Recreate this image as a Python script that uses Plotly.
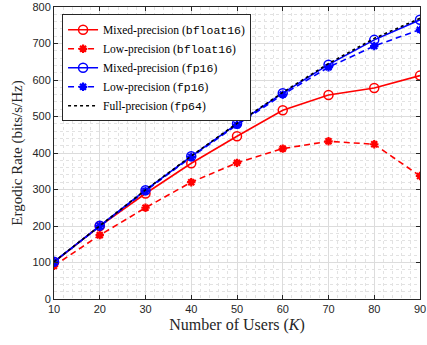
import plotly.graph_objects as go

users = [10, 20, 30, 40, 50, 60, 70, 80, 90]
mixed_bf16 = [101, 200, 289, 372, 446, 517, 559, 578, 612]
low_bf16 = [91, 175, 250, 320, 373, 412, 432, 424, 337]
mixed_fp16 = [102, 201, 298, 391, 480, 564, 642, 710, 765]
low_fp16 = [102, 200, 296, 389, 477, 560, 635, 693, 738]
full_fp64 = [102, 201, 299, 392, 481, 566, 645, 714, 769]

y_ticks = [0, 100, 200, 300, 400, 500, 600, 700, 800]
x_ticks = users

mono = "Liberation Mono, DejaVu Sans Mono, monospace"

def lbl(prefix, code):
    return f'{prefix} (<span style="font-family:{mono}">{code}</span>)'

fig = go.Figure()
fig.add_trace(go.Scatter(x=users, y=mixed_bf16, mode="lines+markers",
    name=lbl("Mixed-precision", "bfloat16"),
    line=dict(color="#ff0000", width=1.6),
    marker=dict(symbol="circle-open", size=9, color="#ff0000", line=dict(width=1.5))))
fig.add_trace(go.Scatter(x=users, y=low_bf16, mode="lines+markers",
    name=lbl("Low-precision", "bfloat16"),
    line=dict(color="#ff0000", width=1.6, dash="6px,4px"),
    marker=dict(symbol="asterisk-open", size=7, color="#ff0000", line=dict(width=2.2, color="#ff0000"))))
fig.add_trace(go.Scatter(x=users, y=mixed_fp16, mode="lines+markers",
    name=lbl("Mixed-precision", "fp16"),
    line=dict(color="#0000ff", width=1.6),
    marker=dict(symbol="circle-open", size=9, color="#0000ff", line=dict(width=1.5))))
fig.add_trace(go.Scatter(x=users, y=low_fp16, mode="lines+markers",
    name=lbl("Low-precision", "fp16"),
    line=dict(color="#0000ff", width=1.6, dash="6px,4px"),
    marker=dict(symbol="asterisk-open", size=7, color="#0000ff", line=dict(width=2.2, color="#0000ff"))))
fig.add_trace(go.Scatter(x=users, y=full_fp64, mode="lines",
    name=lbl("Full-precision", "fp64"),
    line=dict(color="#000000", width=1.6, dash="dot")))

axis_common = dict(
    showline=True, linecolor="#262626", linewidth=1, mirror="ticks",
    ticks="inside", ticklen=4, tickcolor="#262626",
    showgrid=True, gridcolor="#dcdcdc", gridwidth=1,
    zeroline=False, ticklabeloverflow="allow",
    tickfont=dict(family="Liberation Sans, Arial", size=11, color="#262626"),
)

fig.update_xaxes(range=[10, 90], tickvals=x_ticks,
    minor=dict(dtick=2, showgrid=True, gridcolor="#e2e2e2", griddash="dot", gridwidth=1),
    title=dict(text="Number of Users (<i>K</i>)", font=dict(family="Liberation Serif, DejaVu Serif", size=16, color="#262626"), standoff=4),
    **axis_common)
fig.update_yaxes(range=[0, 800], tickvals=y_ticks,
    minor=dict(dtick=20, showgrid=True, gridcolor="#e2e2e2", griddash="dot", gridwidth=1),
    title=dict(text="Ergodic Rate (bits/s/Hz)", font=dict(family="Liberation Serif, DejaVu Serif", size=15, color="#262626"), standoff=6),
    **axis_common)

fig.update_layout(
    width=427, height=345,
    margin=dict(l=54, r=1, t=6, b=46),
    paper_bgcolor="white", plot_bgcolor="white",
    showlegend=True,
    legend=dict(x=0.022, y=0.975, xanchor="left", yanchor="top",
        bgcolor="white", bordercolor="#262626", borderwidth=1,
        font=dict(family="Liberation Serif, DejaVu Serif", size=11.5, color="#000000"),
        tracegroupgap=0, itemwidth=30),
)

fig.write_html("out.html")
